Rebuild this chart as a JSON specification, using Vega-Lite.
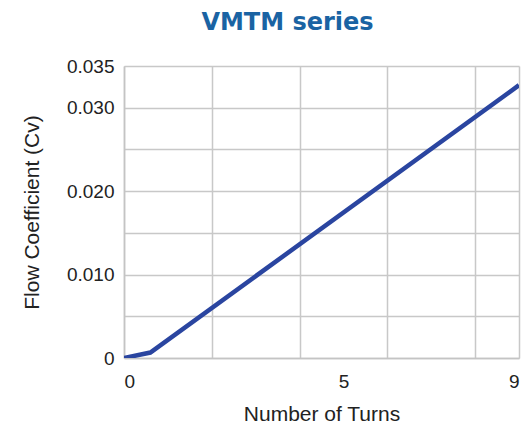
{
  "$schema": "https://vega.github.io/schema/vega-lite/v6.json",
  "autosize": {"type": "none"},
  "width": 395,
  "height": 292,
  "padding": {"left": 124, "top": 66, "right": 2, "bottom": 70},
  "background": "white",
  "title": {
    "text": "VMTM series",
    "font": "DejaVu Sans",
    "fontSize": 24,
    "fontWeight": "bold",
    "color": "#1a63a3",
    "anchor": "middle",
    "dx": -34,
    "offset": 22
  },
  "data": {
    "values": [
      {"turns": 0, "cv": 0},
      {"turns": 0.6, "cv": 0.00065},
      {"turns": 9, "cv": 0.0327}
    ]
  },
  "mark": {"type": "line", "color": "#2a45a0", "strokeWidth": 4.5, "clip": true},
  "encoding": {
    "x": {
      "field": "turns",
      "type": "quantitative",
      "scale": {"domain": [0, 9], "nice": false, "zero": true},
      "axis": {
        "title": "Number of Turns",
        "values": [0, 2, 4, 5, 6, 8, 9],
        "labelExpr": "datum.value == 0 || datum.value == 5 || datum.value == 9 ? format(datum.value, 'd') : ''",
        "labelFlush": true,
        "labelFont": "Liberation Sans",
        "labelFontSize": 19,
        "labelColor": "#222",
        "labelPadding": 14,
        "ticks": false,
        "domainColor": "#c4c4c4",
        "domainWidth": 1.5,
        "gridColor": "#c8c8c8",
        "gridWidth": 1.5,
        "gridOpacity": {"condition": {"test": "datum.value == 5", "value": 0}, "value": 1},
        "titleFont": "Liberation Sans",
        "titleFontSize": 21,
        "titleFontWeight": "normal",
        "titleColor": "#222",
        "titlePadding": 12
      }
    },
    "y": {
      "field": "cv",
      "type": "quantitative",
      "scale": {"domain": [0, 0.035], "nice": false},
      "axis": {
        "title": "Flow Coefficient (Cv)",
        "values": [0, 0.005, 0.01, 0.015, 0.02, 0.025, 0.03, 0.035],
        "labelExpr": "datum.value == 0 ? '0' : (indexof(['0.010','0.020','0.030','0.035'], format(datum.value, '.3f')) >= 0 ? format(datum.value, '.3f') : '')",
        "labelFont": "Liberation Sans",
        "labelFontSize": 19,
        "labelColor": "#222",
        "labelPadding": 10,
        "ticks": false,
        "domainColor": "#c4c4c4",
        "domainWidth": 1.5,
        "gridColor": "#c8c8c8",
        "gridWidth": 1.5,
        "titleFont": "Liberation Sans",
        "titleFontSize": 21,
        "titleFontWeight": "normal",
        "titleColor": "#222",
        "titlePadding": 24
      }
    }
  },
  "config": {"view": {"stroke": null}}
}
